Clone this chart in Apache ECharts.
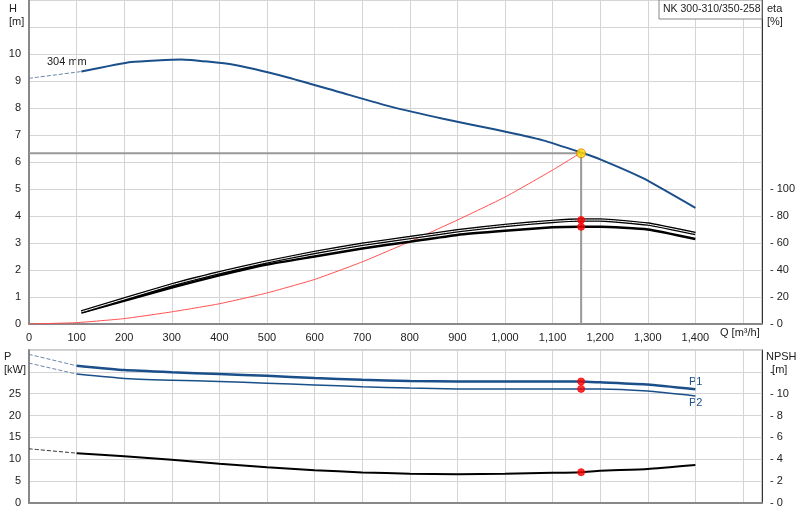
<!DOCTYPE html>
<html><head><meta charset="utf-8">
<script src="https://cdn.jsdelivr.net/npm/echarts@6/dist/echarts.min.js"></script>
<style>html,body{margin:0;padding:0;background:#fff}#c{width:800px;height:520px}</style>
</head><body><div id="c"></div>
<script>
const headQ=[110,215,320,430,540,650,760,870,980,1080,1160,1200,1290,1400];
const headH=[9.35,9.7,9.8,9.6,9.15,8.6,8.05,7.6,7.2,6.8,6.35,6.1,5.4,4.3];
const headDashQ=[0,110], headDashH=[9.1,9.35];
const etaQ=[110,300,400,500,600,700,800,900,1000,1100,1160,1200,1300,1400];
const etaLow=[8.4,27,36,44,50,56,61,66,69,71.6,72,72,70,63];
const etaHigh=[9,29,38,46,53,59,64,69,73,76,77,77,74,67];
const sysQ=[0,100,200,300,400,500,600,700,800,900,1000,1100,1160];
const sysH=[0,0.05,0.2,0.45,0.75,1.15,1.65,2.3,3.05,3.85,4.7,5.7,6.35];
const opQ=1160, opH=6.32;
const pQ=[100,200,300,400,500,600,700,800,900,1000,1100,1160,1200,1300,1400];
const p1=[31.4,30.4,29.9,29.5,29.1,28.6,28.2,27.9,27.8,27.8,27.8,27.8,27.6,27.1,26];
const p2=[29.5,28.5,28.1,27.8,27.4,27,26.6,26.3,26.1,26.1,26.1,26.1,26.1,25.6,24.5];
const p1Dash=[34,31.4], p2Dash=[32,29.5];
const npshQ=[100,200,300,400,500,600,700,800,900,1000,1100,1160,1200,1300,1400];
const npsh=[4.56,4.28,3.96,3.6,3.28,3.0,2.8,2.68,2.64,2.68,2.76,2.82,2.96,3.12,3.48];
const npshDash=[4.96,4.56];
const xTicks=[0,100,200,300,400,500,600,700,800,900,1000,1100,1200,1300,1400];

const z=(a,b)=>a.map((v,i)=>[v,b[i]]);
const ch=echarts.init(document.getElementById('c'));
const font='Arial, Liberation Sans, sans-serif';
const gl={show:true,lineStyle:{color:'#d4d4d4',width:1}};
const xBase=(gi,labels)=>({gridIndex:gi,type:'value',min:0,max:1540,interval:100,
 axisLine:{lineStyle:{color:'#888',width:2}},axisTick:{show:false},splitLine:gl,
 axisLabel:{show:labels,color:'#222',fontSize:11,fontFamily:font,
 formatter:v=>xTicks.includes(v)?v.toLocaleString('en-US'):''}});
const line=(xi,yi,data,color,w,dash,z2,sm)=>({type:'line',xAxisIndex:xi,yAxisIndex:yi,data,symbol:'none',smooth:sm===undefined?0.15:sm,
 lineStyle:{color,width:w,type:dash?'dashed':'solid'},z:z2||3,silent:true});
const dot=(xi,yi,data,color,size)=>({type:'scatter',xAxisIndex:xi,yAxisIndex:yi,data,symbolSize:size||8,
 itemStyle:{color,borderColor:color==='#ffe000'?'#e07000':color,borderWidth:1},z:10,silent:true});
ch.setOption({
 animation:false,
 grid:[{left:29,top:0,width:733,height:324,show:true,borderColor:'#999',borderWidth:1},
       {left:29,top:350,width:733,height:153,show:true,borderColor:'#999',borderWidth:1}],
 xAxis:[xBase(0,true),xBase(1,false)],
 yAxis:[
  {gridIndex:0,type:'value',min:0,max:12,interval:1,axisLine:{show:true,lineStyle:{color:'#888',width:2}},axisTick:{show:false},
   splitLine:gl,axisLabel:{color:'#222',fontSize:11,fontFamily:font,formatter:v=>v<=10?v:''}},
  {gridIndex:0,type:'value',min:0,max:240,interval:20,position:'right',axisLine:{show:true,lineStyle:{color:'#333',width:1}},
   axisTick:{show:false},splitLine:{show:false},axisLabel:{color:'#222',fontSize:11,fontFamily:font,formatter:v=>v<=100?('- '+v):''}},
  {gridIndex:1,type:'value',min:0,max:35,interval:5,axisLine:{show:true,lineStyle:{color:'#888',width:2}},axisTick:{show:false},
   splitLine:gl,axisLabel:{color:'#222',fontSize:11,fontFamily:font,formatter:v=>v<=25?v:(v===30?'-':'')}},
  {gridIndex:1,type:'value',min:0,max:14,interval:2,position:'right',axisLine:{show:true,lineStyle:{color:'#333',width:1}},
   axisTick:{show:false},splitLine:{show:false},axisLabel:{color:'#222',fontSize:11,fontFamily:font,formatter:v=>v<=10?('- '+v):(v===12?'-':'')}}
 ],
 series:[
  line(0,0,[[0,opH],[opQ,opH]],'#999',2,false,2,false),
  line(0,0,[[opQ,0],[opQ,opH]],'#999',2,false,2,false),
  line(0,0,z(headDashQ,headDashH),'#6a84a8',1,true),
  line(0,0,z(headQ,headH),'#1a4f8a',2,false),
  line(0,0,z(sysQ,sysH),'#ff5050',1,false),
  line(0,1,z(etaQ,etaHigh),'#000',3.5,false,4),
  line(0,1,z(etaQ,etaHigh),'#fff',1,false,5),
  line(0,1,z(etaQ,etaLow),'#000',2.5,false,4),
  dot(0,0,[[opQ,opH]],'#ffe000',9),
  dot(0,1,[[opQ,77],[opQ,72]],'#ff0000',7),
  line(1,2,z([0,100],p1Dash),'#6a84a8',1,true),
  line(1,2,z([0,100],p2Dash),'#6a84a8',1,true),
  line(1,2,z(pQ,p1),'#1a4f8a',2.5,false),
  line(1,2,z(pQ,p2),'#1a4f8a',1.5,false),
  line(1,3,z([0,100],npshDash),'#333',1,true),
  line(1,3,z(npshQ,npsh),'#000',2,false),
  dot(1,2,[[opQ,27.8],[opQ,26.1]],'#ff0000',7),
  dot(1,3,[[opQ,2.82]],'#ff0000',7)
 ],
 graphic:[
  {type:'text',left:9,top:2,style:{text:'H\n[m]',font:'11px '+font,fill:'#222',lineHeight:13}},
  {type:'text',left:767,top:2,style:{text:'eta\n[%]',font:'11px '+font,fill:'#222',lineHeight:13}},
  {type:'text',left:4,top:350,style:{text:'P\n[kW]',font:'11px '+font,fill:'#222',lineHeight:13}},
  {type:'text',left:766,top:350,style:{text:'NPSH\n  [m]',font:'11px '+font,fill:'#222',lineHeight:13}},
  {type:'text',left:720,top:327,style:{text:'Q [m³/h]',font:'11px '+font,fill:'#222'}},
  {type:'text',left:47,top:56,style:{text:'304 mm',font:'11px '+font,fill:'#222'}},
  {type:'text',left:689,top:376,style:{text:'P1',font:'11px '+font,fill:'#1a4f8a'}},
  {type:'text',left:689,top:397,style:{text:'P2',font:'11px '+font,fill:'#1a4f8a'}},
  {type:'rect',shape:{x:659,y:0,width:103,height:19},style:{fill:'#fff',stroke:'#888',lineWidth:1},z:20},
  {type:'text',left:663,top:4,z:21,style:{text:'NK 300-310/350-258',font:'10.5px '+font,fill:'#222'}}
 ]
});
</script></body></html>
